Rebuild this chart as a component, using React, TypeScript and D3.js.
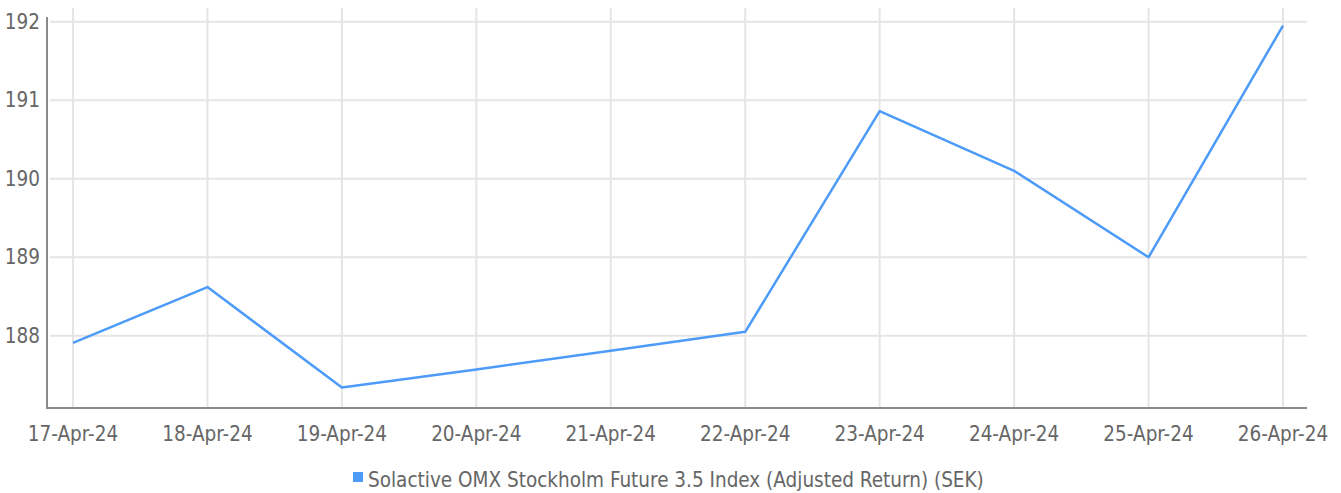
import { useEffect, useRef } from 'react';
import * as d3 from 'd3';

const WIDTH = 1341;
const HEIGHT = 493;

const dates = ['17-Apr-24', '18-Apr-24', '19-Apr-24', '20-Apr-24', '21-Apr-24', '22-Apr-24', '23-Apr-24', '24-Apr-24', '25-Apr-24', '26-Apr-24'];
const values = [187.91, 188.62, 187.34, 187.57, 187.81, 188.05, 190.86, 190.1, 189.0, 191.95];
const yTicks = [188, 189, 190, 191, 192];
const seriesName = 'Solactive OMX Stockholm Future 3.5 Index (Adjusted Return) (SEK)';

const FONT = '"Liberation Sans Narrow", "DejaVu Sans Condensed", sans-serif';
const LINE_COLOR = '#4d9bf8';
const TEXT_COLOR = '#666';

export default function App() {
  const svgRef = useRef<SVGSVGElement>(null);

  useEffect(() => {
    const svg = d3.select(svgRef.current);
    svg.selectAll('*').remove();

    const left = 47, right = 1307, top = 8, bottom = 408;
    const x = d3.scalePoint<string>().domain(dates).range([73, 1283]);
    const y = d3.scaleLinear().domain([187.08, 192.06]).range([bottom, 17]);

    // grid
    svg.append('g')
      .selectAll('line')
      .data(dates)
      .join('line')
      .attr('x1', (d) => x(d)!)
      .attr('x2', (d) => x(d)!)
      .attr('y1', top)
      .attr('y2', bottom)
      .attr('stroke', '#e5e5e5')
      .attr('stroke-width', 2);
    svg.append('g')
      .selectAll('line')
      .data(yTicks)
      .join('line')
      .attr('x1', left + 3)
      .attr('x2', right)
      .attr('y1', (d) => y(d))
      .attr('y2', (d) => y(d))
      .attr('stroke', '#e5e5e5')
      .attr('stroke-width', 2);

    // axis lines
    svg.append('line').attr('x1', left).attr('x2', left).attr('y1', 17).attr('y2', bottom + 1)
      .attr('stroke', '#8a8a8a').attr('stroke-width', 2);
    svg.append('line').attr('x1', left).attr('x2', right).attr('y1', bottom).attr('y2', bottom)
      .attr('stroke', '#8a8a8a').attr('stroke-width', 2);

    // tick labels
    svg.append('g')
      .selectAll('text')
      .data(yTicks)
      .join('text')
      .attr('x', 40)
      .attr('y', (d) => y(d) + 7)
      .attr('text-anchor', 'end')
      .attr('font-family', FONT)
      .attr('font-size', 20.5)
      .attr('fill', TEXT_COLOR)
      .text((d) => d);
    svg.append('g')
      .selectAll('text')
      .data(dates)
      .join('text')
      .attr('x', (d) => x(d)!)
      .attr('y', 441)
      .attr('text-anchor', 'middle')
      .attr('font-family', FONT)
      .attr('font-size', 20.5)
      .attr('fill', TEXT_COLOR)
      .text((d) => d);

    // series line
    const line = d3.line<number>()
      .x((_, i) => x(dates[i])!)
      .y((d) => y(d));
    svg.append('path')
      .datum(values)
      .attr('d', line)
      .attr('fill', 'none')
      .attr('stroke', LINE_COLOR)
      .attr('stroke-width', 2.5)
      .attr('stroke-linejoin', 'round');

    // legend
    const lg = svg.append('g').attr('transform', 'translate(353,472)');
    lg.append('rect').attr('width', 10).attr('height', 10).attr('fill', LINE_COLOR);
    lg.append('text')
      .attr('x', 15)
      .attr('y', 15)
      .attr('font-family', FONT)
      .attr('font-size', 20.5)
      .attr('fill', TEXT_COLOR)
      .text(seriesName);
  }, []);

  return (
    <svg
      ref={svgRef}
      width={WIDTH}
      height={HEIGHT}
      style={{ position: 'absolute', left: 0, top: 0, background: '#fff' }}
    />
  );
}
